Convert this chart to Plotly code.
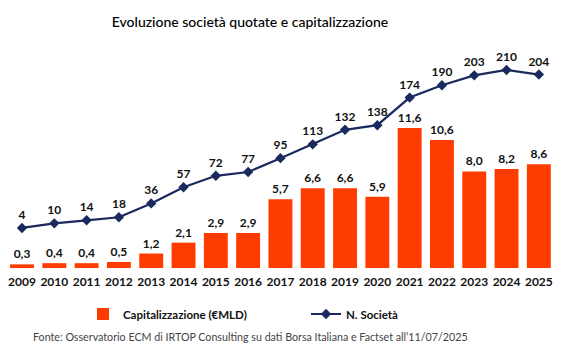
import plotly.graph_objects as go

years = [str(y) for y in range(2009, 2026)]
capitalizzazione = [0.3, 0.4, 0.4, 0.5, 1.2, 2.1, 2.9, 2.9, 5.7, 6.6, 6.6, 5.9, 11.6, 10.6, 8.0, 8.2, 8.6]
n_societa = [4, 10, 14, 18, 36, 57, 72, 77, 95, 113, 132, 138, 174, 190, 203, 210, 204]

BAR = "#FF3C00"
LINE = "#1B2A5E"
FONT = "Lato"

x = list(range(len(years)))

W, H = 580, 349
L, R, T, B = 0, 33, 52, 89
PW, PH = W - L - R, H - T - B

fig = go.Figure()
fig.add_trace(go.Bar(
    x=x, y=capitalizzazione, name="Capitalizzazione (€MLD)",
    marker=dict(color=BAR, line=dict(width=0)),
    text=[f"{v:.1f}".replace(".", ",") for v in capitalizzazione],
    textposition="outside", cliponaxis=False,
    textfont=dict(family=FONT, size=12, color="#111111", weight="bold"),
    yaxis="y", legend="legend",
))
fig.add_trace(go.Scatter(
    x=x, y=n_societa, name="N. Società", mode="lines+markers+text",
    line=dict(color=LINE, width=2.2),
    marker=dict(symbol="diamond", size=8, color=LINE),
    text=[str(v) for v in n_societa], textposition="top center",
    textfont=dict(family=FONT, size=12, color="#111111", weight="bold"),
    cliponaxis=False,
    yaxis="y2", legend="legend2",
))

leg_font = dict(family=FONT, size=11.5, color="#111111", weight="bold")
fig.update_layout(
    width=W, height=H,
    margin=dict(l=L, r=R, t=T, b=B, autoexpand=False),
    paper_bgcolor="white", plot_bgcolor="white",
    bargap=0.26,
    showlegend=True,
    legend=dict(x=(75 - L) / PW, xanchor="left", y=-(306 - (T + PH)) / PH, yanchor="middle",
                font=leg_font, itemwidth=30, bgcolor="rgba(0,0,0,0)"),
    legend2=dict(x=(298 - L) / PW, xanchor="left", y=-(306 - (T + PH)) / PH, yanchor="middle",
                 font=leg_font, itemwidth=30, bgcolor="rgba(0,0,0,0)"),
    xaxis=dict(tickmode="array", tickvals=x, ticktext=years, range=[-0.4335, 16.5],
               showgrid=False, zeroline=False, showline=False, ticks="",
               ticklabelstandoff=5,
               tickfont=dict(family=FONT, size=12, color="#111111", weight="bold")),
    yaxis=dict(range=[0, 17.23], visible=False, showgrid=False),
    yaxis2=dict(range=[-48.2, 223], visible=False, overlaying="y", showgrid=False),
    title=dict(text="Evoluzione società quotate e capitalizzazione",
               x=242 / W, xanchor="center", y=1 - 14 / H, yanchor="middle",
               font=dict(family=FONT, size=14, color="#000000", weight=500)),
)
fig.add_annotation(
    text="Fonte: Osservatorio ECM di IRTOP Consulting su dati Borsa Italiana e Factset all’11/07/2025",
    xref="paper", yref="paper", x=(242 - L) / PW, xanchor="center",
    y=-(328 - (T + PH)) / PH, yanchor="middle", showarrow=False,
    font=dict(family=FONT, size=10.7, color="#444444"),
)

fig.write_html("out.html")
